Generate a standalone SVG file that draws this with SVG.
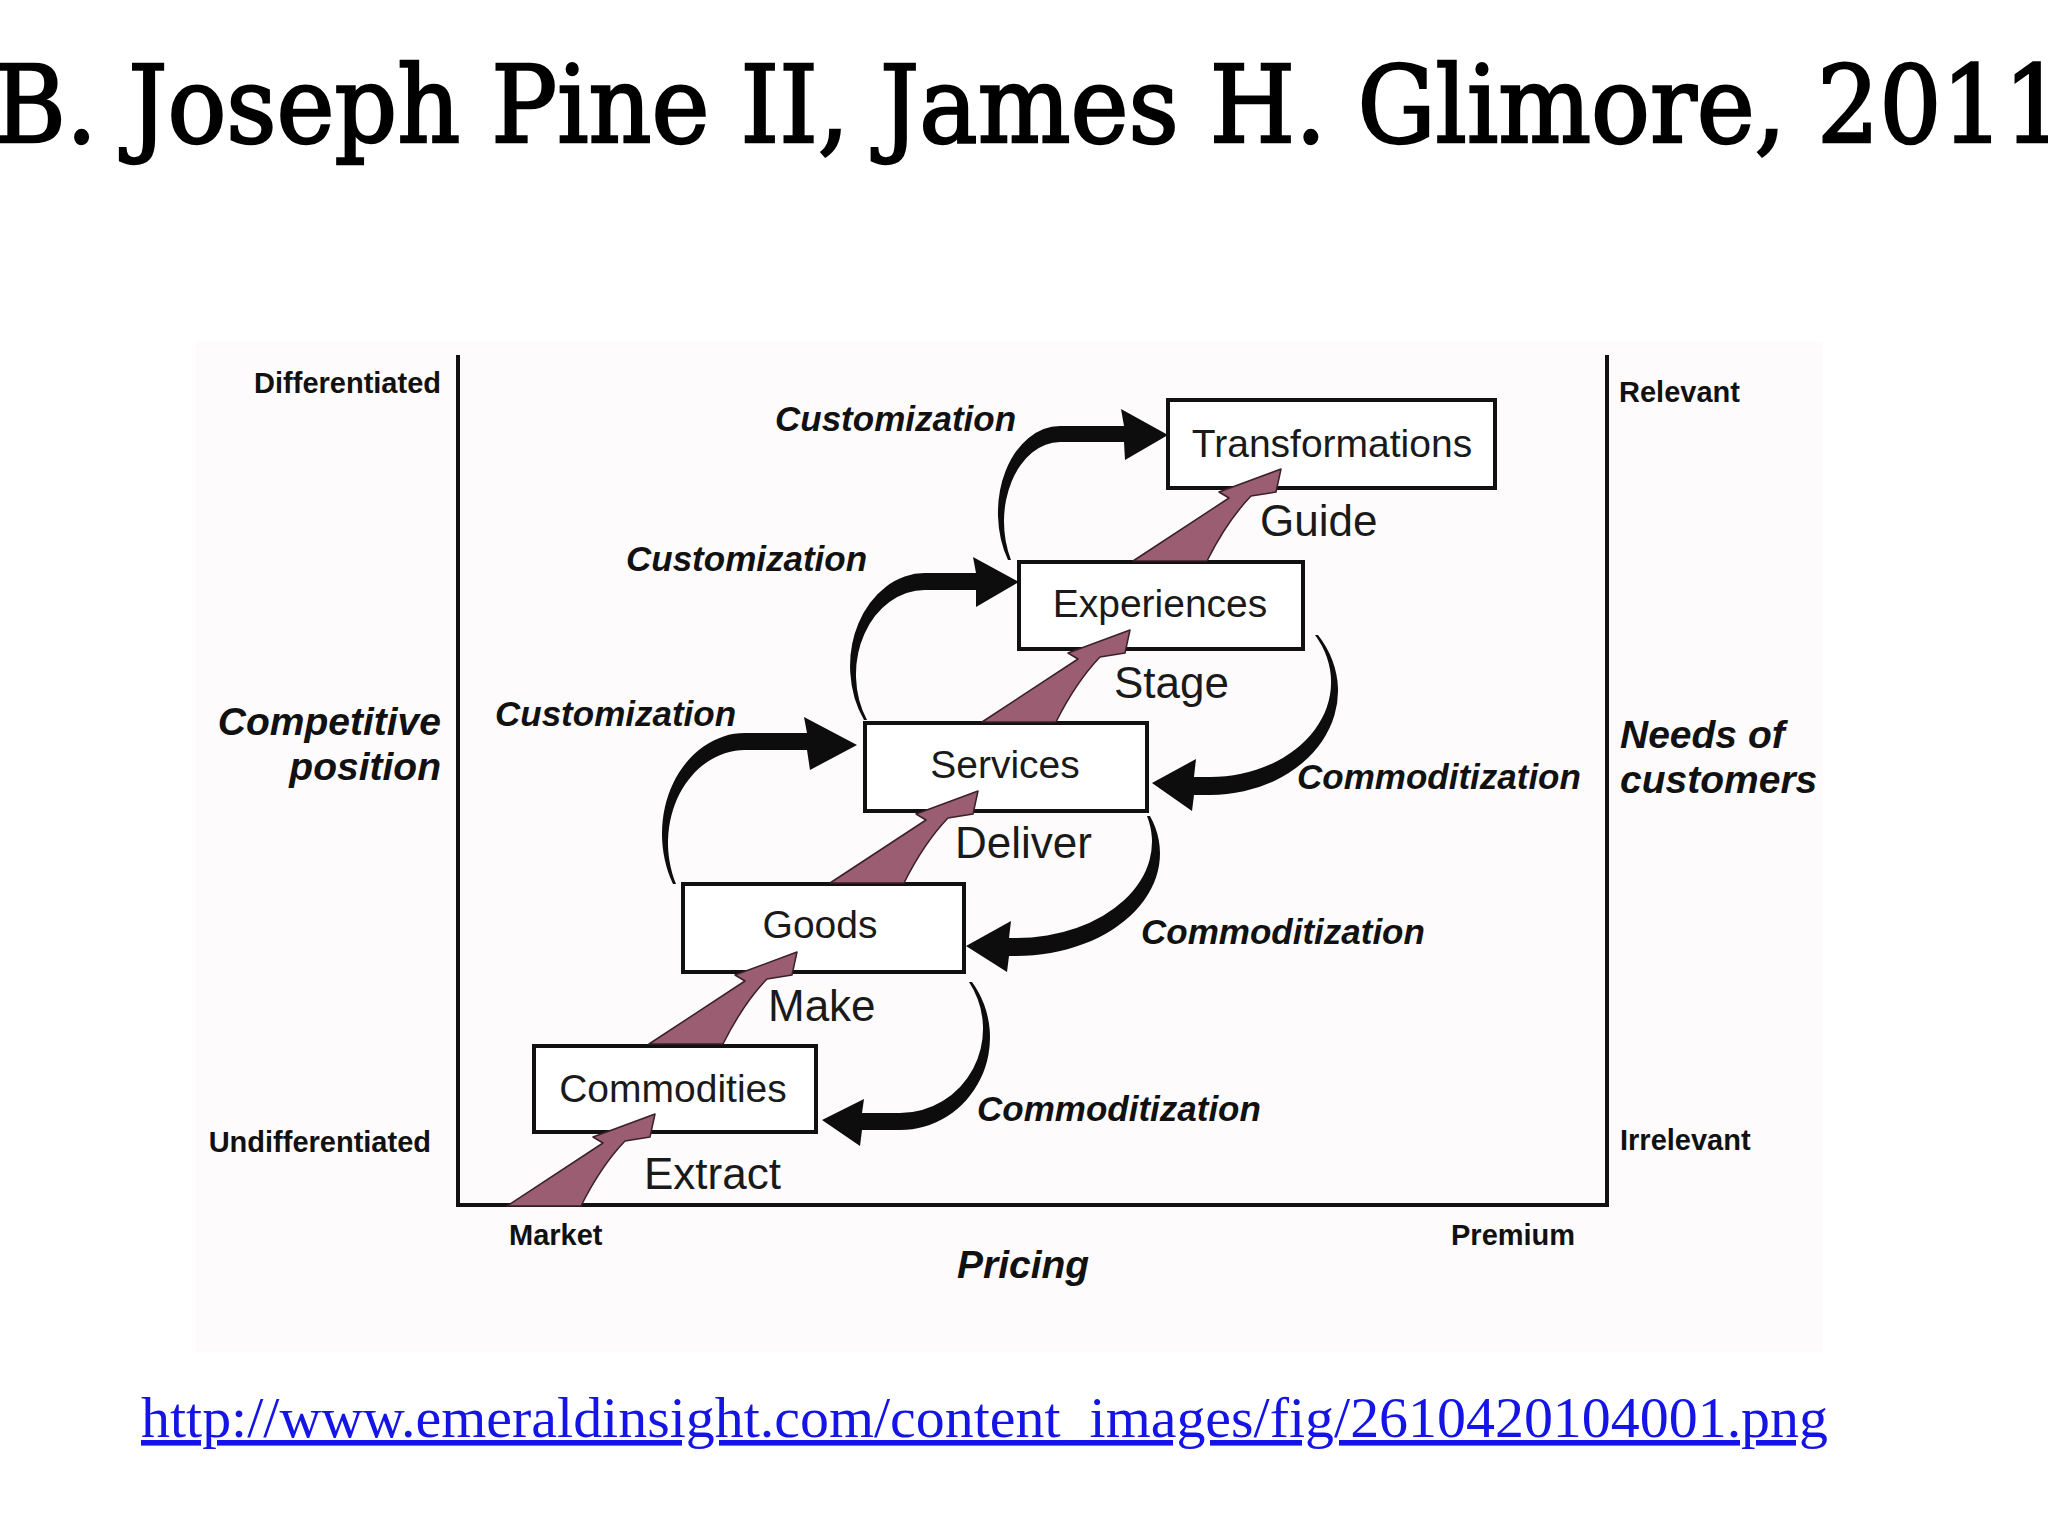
<svg xmlns="http://www.w3.org/2000/svg" xmlns:xlink="http://www.w3.org/1999/xlink" width="2048" height="1536" viewBox="0 0 2048 1536">
<style>
.box{fill:#fff;stroke:#111;stroke-width:4}
.bt{font-family:"Liberation Sans",Arial,sans-serif;font-size:39px;fill:#1a1a1a;text-anchor:middle}
.vb{font-family:"Liberation Sans",Arial,sans-serif;font-size:44px;fill:#1a1a1a}
.bi{font-family:"Liberation Sans",Arial,sans-serif;font-size:35px;font-weight:bold;font-style:italic;fill:#111}
.ax{font-family:"Liberation Sans",Arial,sans-serif;font-size:29px;font-weight:bold;fill:#111}
.axbi{font-family:"Liberation Sans",Arial,sans-serif;font-size:39px;font-weight:bold;font-style:italic;fill:#111}
.axis{stroke:#111;stroke-width:4;fill:none}
.blk{fill:#0d0d0d}
.mauve{fill:#9a5d71;stroke:#3a2028;stroke-width:1.5;stroke-linejoin:round}
</style>
<defs>
<path id="rise" d="M -148 92 L -52 29 L -62 23 L 0 0 L -5 23 L -30 27 Q -54 52 -74 92 Z"/>
</defs>
<rect width="2048" height="1536" fill="#fff"/>
<rect x="196" y="342" width="1627" height="1010" fill="#fdfbfc"/>
<text x="-6" y="142" font-family="DejaVu Serif,Liberation Serif,serif" font-size="106" fill="#000" stroke="#000" stroke-width="2.5" textLength="2072" lengthAdjust="spacingAndGlyphs">B. Joseph Pine II, James H. Glimore, 2011</text>

<g id="axes">
<path class="axis" d="M 458 355 L 458 1205 L 1607 1205 L 1607 355"/>
</g>

<g id="axis-labels">
<text class="ax" x="441" y="393" text-anchor="end">Differentiated</text>
<text class="ax" x="431" y="1152" text-anchor="end">Undifferentiated</text>
<text class="ax" x="1619" y="402">Relevant</text>
<text class="ax" x="1620" y="1150">Irrelevant</text>
<text class="ax" x="509" y="1245">Market</text>
<text class="ax" x="1451" y="1245">Premium</text>
<text class="axbi" x="441" y="735" text-anchor="end">Competitive</text>
<text class="axbi" x="441" y="780" text-anchor="end">position</text>
<text class="axbi" x="1620" y="748">Needs of</text>
<text class="axbi" x="1620" y="793">customers</text>
<text class="axbi" x="957" y="1278">Pricing</text>
</g>

<g id="node-transformations">
<rect class="box" x="1168" y="400" width="327" height="88"/>
<text class="bt" x="1332" y="457">Transformations</text>
</g>
<g id="node-experiences">
<rect class="box" x="1019" y="562" width="284" height="87"/>
<text class="bt" x="1160" y="617">Experiences</text>
</g>
<g id="node-services">
<rect class="box" x="865" y="723" width="282" height="88"/>
<text class="bt" x="1005" y="778">Services</text>
</g>
<g id="node-goods">
<rect class="box" x="683" y="884" width="281" height="88"/>
<text class="bt" x="820" y="938">Goods</text>
</g>
<g id="node-commodities">
<rect class="box" x="534" y="1046" width="282" height="86"/>
<text class="bt" x="673" y="1102">Commodities</text>
</g>

<g id="labels">
<text class="vb" x="1260" y="536">Guide</text>
<text class="vb" x="1114" y="698">Stage</text>
<text class="vb" x="955" y="858">Deliver</text>
<text class="vb" x="768" y="1021">Make</text>
<text class="vb" x="644" y="1189">Extract</text>
<text class="bi" x="775" y="431">Customization</text>
<text class="bi" x="626" y="571">Customization</text>
<text class="bi" x="495" y="726">Customization</text>
<text class="bi" x="1297" y="789">Commoditization</text>
<text class="bi" x="1141" y="944">Commoditization</text>
<text class="bi" x="977" y="1121">Commoditization</text>
</g>

<g id="connectors">
<use href="#rise" class="mauve" x="655" y="1114"/>
<use href="#rise" class="mauve" x="797" y="952"/>
<use href="#rise" class="mauve" x="978" y="791"/>
<use href="#rise" class="mauve" x="1130" y="630"/>
<use href="#rise" class="mauve" x="1281" y="469"/>

<path class="blk" d="M 1008 560 A 62 86.7 0 0 1 1060 426 L 1124 426 L 1121 409 L 1168 435 L 1125 460 L 1124 442 L 1060 442 A 56 79.5 0 0 0 1011 560 Z"/>
<path class="blk" d="M 864 720 A 75 93 0 0 1 925 573 L 976 573 L 973 557 L 1019 582 L 976 607 L 976 590 L 925 590 A 69 84.3 0 0 0 867 720 Z"/>
<path class="blk" d="M 673 884 A 83 100.8 0 0 1 745 733 L 807 733 L 804 717 L 857 745 L 810 770 L 807 750 L 745 750 A 77 92.8 0 0 0 676 884 Z"/>

<path class="blk" d="M 1318 635 A 128 104.1 0 0 1 1210 795 L 1194 795 L 1192 811 L 1152 783 L 1196 759 L 1194 777 L 1210 777 A 121 94.8 0 0 0 1315 635 Z"/>
<path class="blk" d="M 1150 816 A 144 102.5 0 0 1 1016 956 L 1009 956 L 1007 972 L 966 946 L 1011 921 L 1009 938 L 1016 938 A 136 96.2 0 0 0 1147 816 Z"/>
<path class="blk" d="M 972 982 A 90 92.5 0 0 1 900 1130 L 862 1130 L 860 1146 L 822 1120 L 864 1099 L 862 1113 L 900 1113 A 83 84.2 0 0 0 969 982 Z"/>
</g>

<text x="141" y="1437" font-family="Liberation Serif,DejaVu Serif,serif" font-size="56" fill="#1414e6" text-decoration="underline" textLength="1687" lengthAdjust="spacingAndGlyphs">http://www.emeraldinsight.com/content_images/fig/2610420104001.png</text>
</svg>
